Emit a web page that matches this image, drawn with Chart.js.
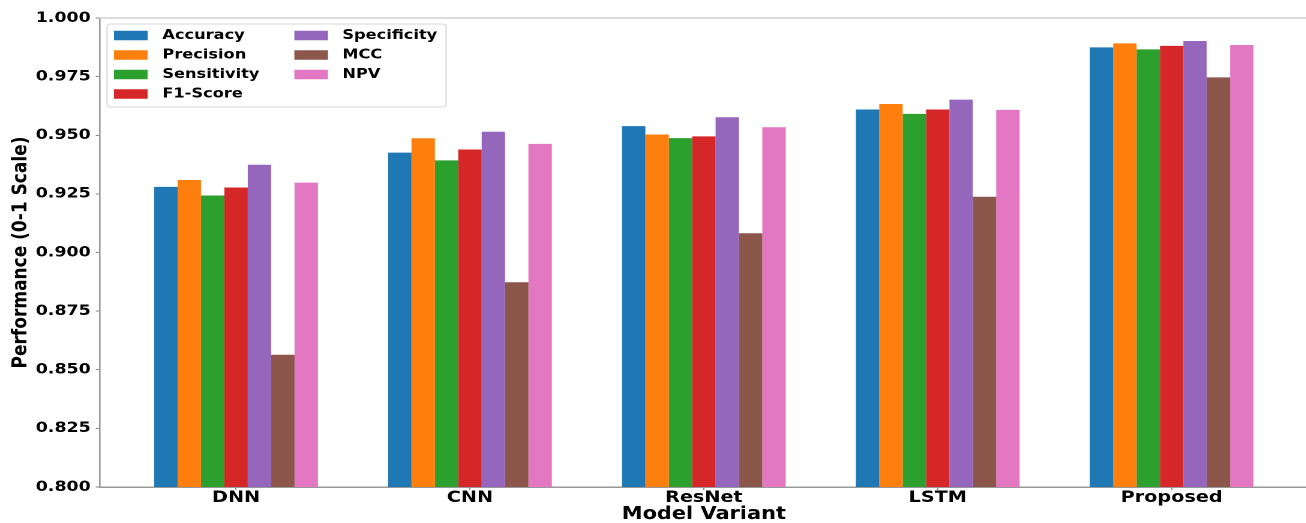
<!DOCTYPE html>
<html><head><meta charset="utf-8">
<script src="https://cdn.jsdelivr.net/npm/chart.js@4.4.0/dist/chart.umd.min.js"></script>
<style>
html,body{margin:0;padding:0;background:#fff;overflow:hidden;width:1306px;height:523px;}
#wrap{position:absolute;left:0;top:0;width:1090px;height:523px;transform:scaleX(1.2);transform-origin:0 0;}
</style></head><body>
<div id="wrap"><canvas id="c" width="1090" height="523"></canvas></div>
<script>
const categories = ['DNN', 'CNN', 'ResNet', 'LSTM', 'Proposed'];
const accuracy    = [0.9280, 0.9426, 0.9539, 0.9610, 0.9875];
const precision   = [0.9309, 0.9487, 0.9503, 0.9633, 0.9892];
const sensitivity = [0.9243, 0.9393, 0.9488, 0.9591, 0.9866];
const f1Score     = [0.9277, 0.9439, 0.9495, 0.9610, 0.9881];
const specificity = [0.9374, 0.9515, 0.9577, 0.9652, 0.9902];
const mcc         = [0.8564, 0.8873, 0.9082, 0.9238, 0.9747];
const npv         = [0.9298, 0.9463, 0.9534, 0.9608, 0.9885];
const seriesNames = ['Accuracy', 'Precision', 'Sensitivity', 'F1-Score', 'Specificity', 'MCC', 'NPV'];
const seriesValues = [accuracy, precision, sensitivity, f1Score, specificity, mcc, npv];
const seriesColors = ['#1f77b4', '#ff7f0e', '#2ca02c', '#d62728', '#9467bd', '#8c564b', '#e377c2'];
const yTickDecimals = 3;

const datasets = seriesNames.map((name, i) => ({
  label: name,
  data: seriesValues[i].map((v, j) => ({ x: j, y: v })),
  backgroundColor: seriesColors[i],
  borderWidth: 0,
  categoryPercentage: 0.7,
  barPercentage: 1.0
}));

const FONT = '"DejaVu Sans", sans-serif';

const decor = {
  id: 'decor',
  afterDraw(chart) {
    const ctx = chart.ctx, a = chart.chartArea;
    ctx.save();
    ctx.strokeStyle = '#d0d0d0'; ctx.lineWidth = 1.5;
    ctx.beginPath(); ctx.moveTo(a.left, a.top); ctx.lineTo(a.right, a.top); ctx.stroke();
    const bx = 89.2, by = 24, bw = 282.5, bh = 83;
    ctx.fillStyle = 'rgba(255,255,255,0.8)'; ctx.strokeStyle = '#d6d6d6'; ctx.lineWidth = 1;
    ctx.beginPath(); ctx.roundRect(bx, by, bw, bh, 3); ctx.fill(); ctx.stroke();
    const rows = [35.5, 55, 74.5, 94];
    chart.data.datasets.forEach((ds, i) => {
      const col = i < 4 ? 0 : 1, row = i < 4 ? i : i - 4;
      const sx = col ? 245.3 : 95, tx = col ? 285.3 : 135.3, cy = rows[row];
      ctx.fillStyle = ds.backgroundColor; ctx.fillRect(sx, cy - 4.75, 28, 9.5);
      ctx.fillStyle = '#000'; ctx.font = 'bold 13.5px ' + FONT;
      ctx.textBaseline = 'middle'; ctx.textAlign = 'left';
      ctx.fillText(ds.label, tx, cy);
    });
    ctx.restore();
  }
};

new Chart(document.getElementById('c'), {
  type: 'bar',
  data: { datasets },
  plugins: [decor],
  options: {
    responsive: false,
    devicePixelRatio: 2,
    animation: false,
    layout: { padding: { top: 18, left: 0, right: 0, bottom: 0 } },
    plugins: { legend: { display: false }, tooltip: { enabled: false } },
    scales: {
      x: {
        type: 'linear',
        min: -0.583, max: 4.583,
        offset: false,
        afterBuildTicks: (s) => { s.ticks = categories.map((_, i) => ({ value: i })); },
        afterFit: (s) => { s.height = 36; },
        grid: { drawOnChartArea: false, offset: false, tickLength: 3, color: '#888', tickWidth: 1 },
        border: { color: '#999', width: 1.5 },
        ticks: {
          autoSkip: false, maxRotation: 0, padding: 1.2, color: '#000',
          font: { family: FONT, weight: 'bold', size: 16, lineHeight: 0.8 },
          callback: (v) => categories[v]
        },
        title: {
          display: true, text: 'Model Variant', color: '#000',
          font: { family: FONT, weight: 'bold', size: 17.4, lineHeight: 1 },
          padding: { top: 0, bottom: 0 }
        }
      },
      y: {
        min: 0.8, max: 1.0,
        afterFit: (s) => { s.width = 83.08; },
        grid: { drawOnChartArea: false, tickLength: 3.3, color: '#888' },
        border: { color: '#999', width: 1.3 },
        ticks: {
          stepSize: 0.025, padding: 4.2, color: '#000',
          font: { family: FONT, weight: 'bold', size: 14.5 },
          callback: (v) => Number(v).toFixed(yTickDecimals)
        },
        title: {
          display: true, text: 'Performance (0-1 Scale)', color: '#000',
          font: { family: FONT, weight: 'bold', size: 17, lineHeight: 1 },
          padding: { top: 9, bottom: 0 }
        }
      }
    }
  }
});
</script>
</body></html>
